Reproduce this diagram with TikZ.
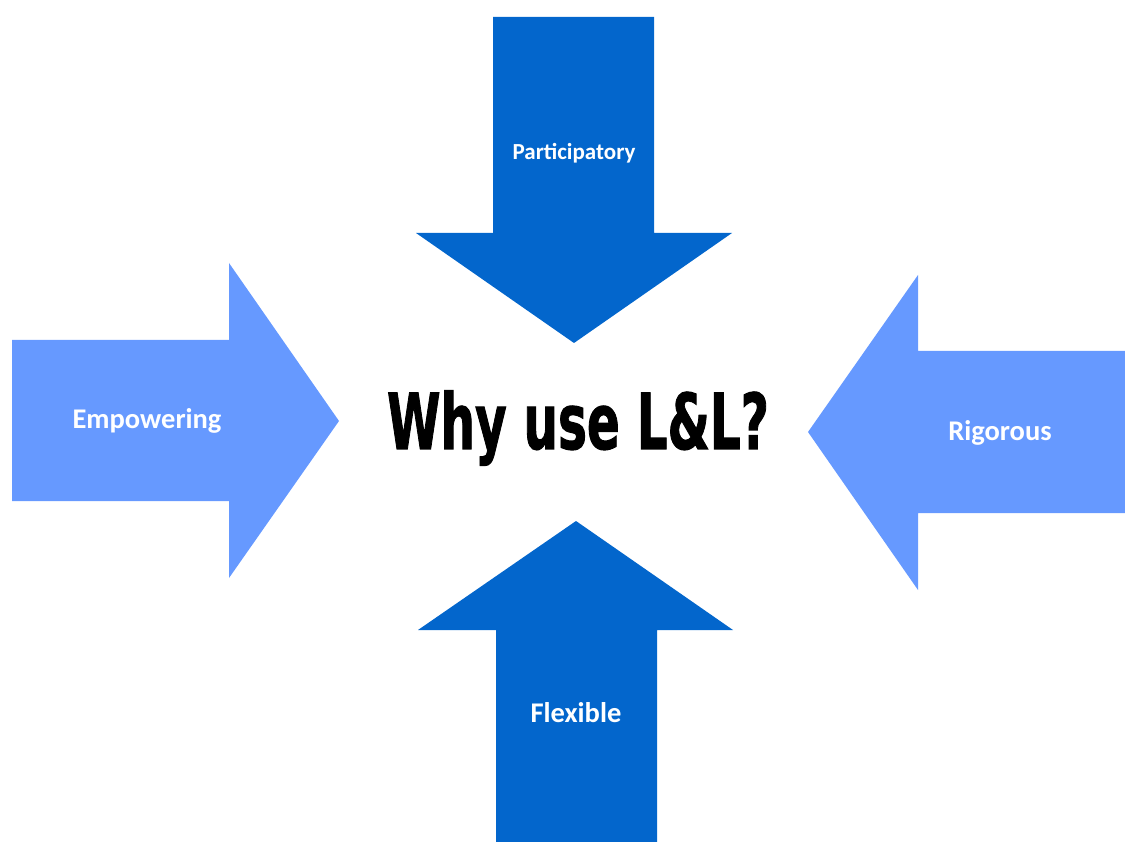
\documentclass[tikz,border=0pt]{standalone}
\usepackage{graphicx}
\usepackage{fontspec}
\setmainfont{Carlito}
\newfontfamily\titlefont{DejaVu Sans Condensed}[BoldFeatures={FakeBold=1.5}]
\usepackage{tikz}
\usetikzlibrary{positioning}

\definecolor{darkblue}{RGB}{3,102,204}
\definecolor{lightblue}{RGB}{102,153,255}

\tikzset{
  bigarrow/.style={fill=#1, draw=none},
  arrowlabel/.style={text=white, font=\bfseries\fontsize{28.5}{32}\selectfont},
  title/.style={text=black, font=\titlefont\bfseries\fontsize{77}{84}\selectfont}
}

\begin{document}
\begin{tikzpicture}[x=1pt, y=-1pt]
    \useasboundingbox (0,0) rectangle (1125,842);

    % top arrow, pointing down
    \path[bigarrow=darkblue] (493,17) -- (654,17) -- (654,233) -- (732,233)
        -- (574,343) -- (416,233) -- (493,233) -- cycle;
    % bottom arrow, pointing up
    \path[bigarrow=darkblue] (496,842) -- (657,842) -- (657,630) -- (733,630)
        -- (576,521) -- (418,630) -- (496,630) -- cycle;
    % left arrow, pointing right
    \path[bigarrow=lightblue] (12,340) -- (229,340) -- (229,263) -- (339,421)
        -- (229,578) -- (229,501) -- (12,501) -- cycle;
    % right arrow, pointing left
    \path[bigarrow=lightblue] (1125,351) -- (918,351) -- (918,275) -- (808,432)
        -- (918,590) -- (918,513) -- (1125,513) -- cycle;

    \node[title] (why) at (578,428) {\scalebox{0.7}[1]{Why use L\&L?}};

    \node[arrowlabel, font=\bfseries\fontsize{23}{27}\selectfont] (part) at (574,153) {Participatory};
    \node[arrowlabel] (emp) at (147,421) {Empowering};
    \node[arrowlabel] (rig) at (1000,433) {Rigorous};
    \node[arrowlabel] (flex) at (576,713) {Flexible};

\end{tikzpicture}
\end{document}
